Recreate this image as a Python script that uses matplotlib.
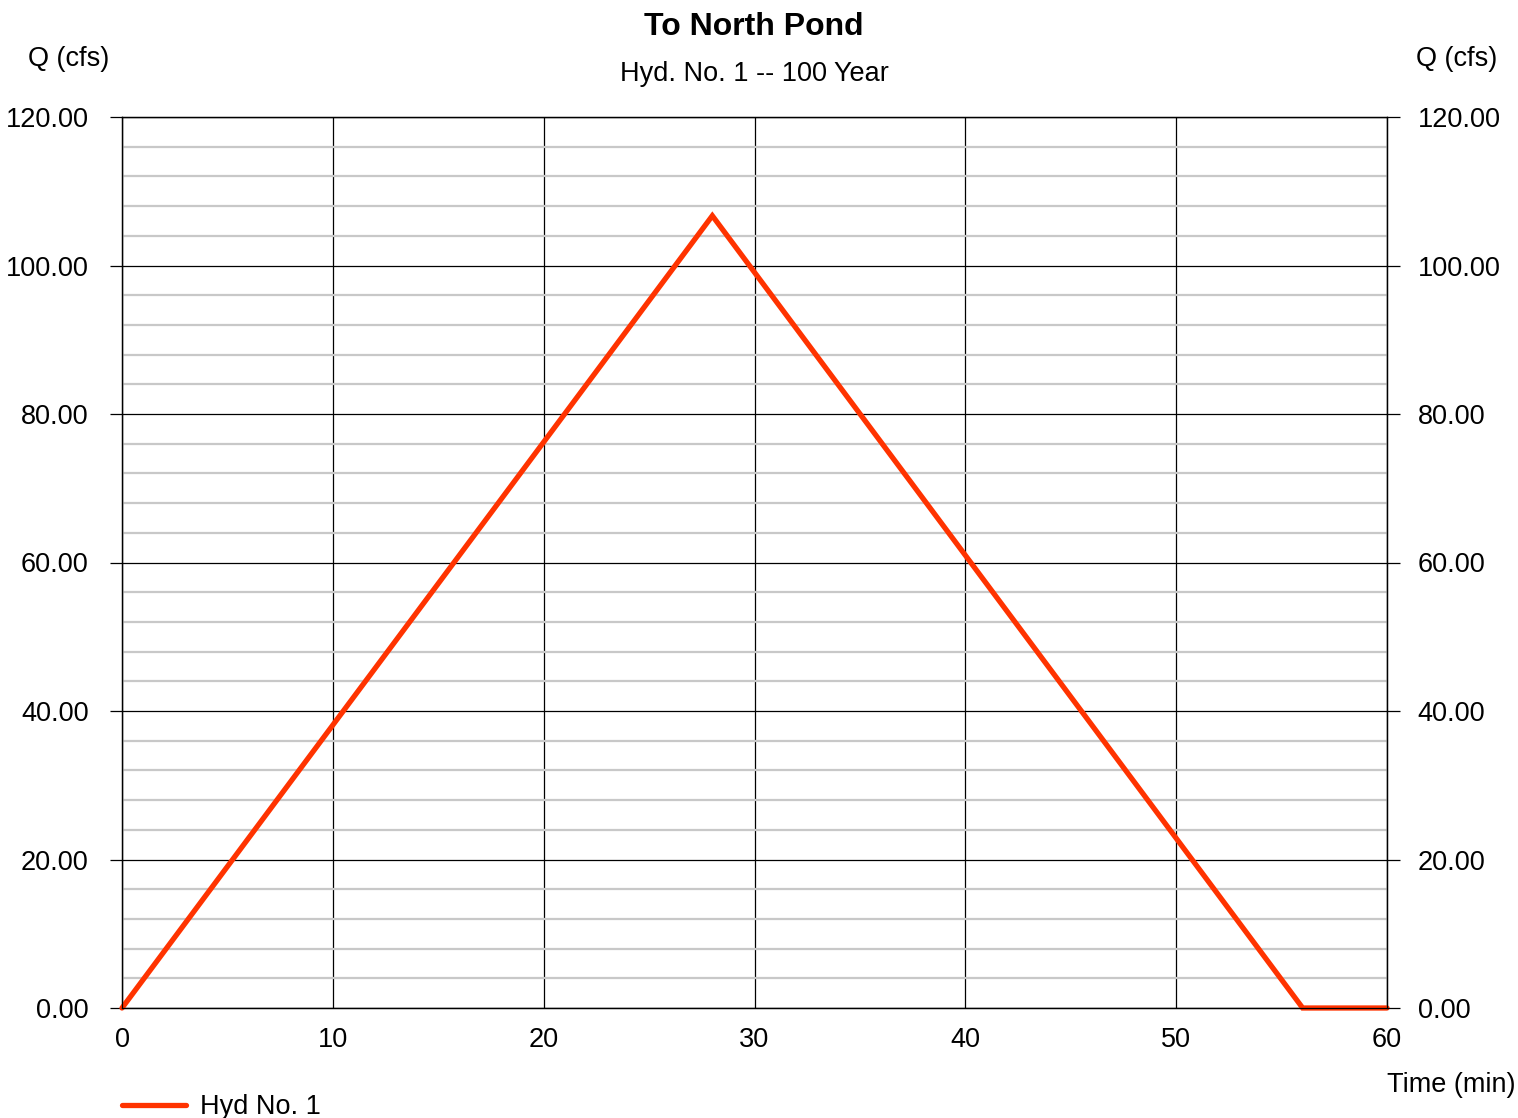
import matplotlib
matplotlib.use("Agg")
import matplotlib.pyplot as plt
from matplotlib.ticker import MultipleLocator, FormatStrFormatter

plt.rcParams['font.family'] = ['Liberation Sans', 'DejaVu Sans']

time_min = [0, 28, 56, 60]
q_cfs = [0.0, 106.7, 0.0, 0.0]
series_label = "Hyd No. 1"
title = "To North Pond"
subtitle = "Hyd. No. 1 -- 100 Year"

FS = 19.5
W, H = 1518, 1118
fig = plt.figure(figsize=(W / 100, H / 100), dpi=100)
ax = fig.add_axes([122 / W, (H - 1008) / H, (1387 - 122) / W, (1008 - 117) / H])

ax.set_xlim(0, 60)
ax.set_ylim(0, 120)
ax.xaxis.set_major_locator(MultipleLocator(10))
ax.yaxis.set_major_locator(MultipleLocator(20))
ax.yaxis.set_minor_locator(MultipleLocator(4))
ax.yaxis.set_major_formatter(FormatStrFormatter('%.2f'))

ax.grid(which='minor', axis='y', color='#c8c8c8', linewidth=1.6, zorder=0)
ax.grid(which='major', axis='both', color='black', linewidth=0.9, zorder=1)

line, = ax.plot(time_min, q_cfs, color='#ff3300', linewidth=3.8,
                solid_capstyle='round', solid_joinstyle='miter', zorder=3, clip_on=False)

for s in ax.spines.values():
    s.set_linewidth(0.9)
    s.set_color('black')

ax.tick_params(which='major', axis='y', direction='out', length=9, width=0.9,
               labelsize=FS, left=True, right=False, labelleft=True, labelright=False, pad=15)
ax.tick_params(which='minor', axis='y', length=0)
ax.tick_params(which='major', axis='x', direction='out', length=0, labelsize=FS, pad=14)

axr = ax.twinx()
axr.set_ylim(0, 120)
axr.yaxis.set_major_locator(MultipleLocator(20))
axr.yaxis.set_major_formatter(FormatStrFormatter('%.2f'))
axr.tick_params(which='major', axis='y', direction='out', length=9, width=0.9,
                labelsize=FS, pad=13)
axr.tick_params(which='minor', axis='y', length=0)
for s in axr.spines.values():
    s.set_linewidth(0.9)
    s.set_color('black')

fig.text(754 / W, 1 - 27 / H, title, ha='center', va='center', fontsize=23, fontweight='bold')
fig.text(754 / W, 1 - 74 / H, subtitle, ha='center', va='center', fontsize=FS)
fig.text(69 / W, 1 - 59 / H, "Q (cfs)", ha='center', va='center', fontsize=FS)
fig.text(1457 / W, 1 - 59 / H, "Q (cfs)", ha='center', va='center', fontsize=FS)
fig.text(1451 / W, 1 - 1085 / H, "Time (min)", ha='center', va='center', fontsize=FS)

leg = fig.legend([line], [series_label], loc='center left',
                 bbox_to_anchor=(122 / W, 1 - 1107 / H), frameon=False, fontsize=FS,
                 handlelength=2.37, handletextpad=0.52, borderpad=0, borderaxespad=0)

fig.savefig("out.png", dpi=100)
